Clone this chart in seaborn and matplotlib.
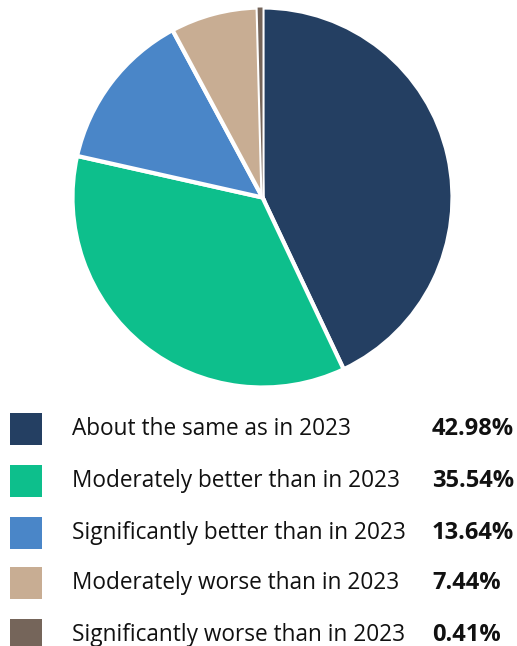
import matplotlib
matplotlib.use("Agg")
import matplotlib.pyplot as plt
from matplotlib.patches import Rectangle
import seaborn as sns

categories = [
    "About the same as in 2023",
    "Moderately better than in 2023",
    "Significantly better than in 2023",
    "Moderately worse than in 2023",
    "Significantly worse than in 2023",
]
shares = [42.98, 35.54, 13.64, 7.44, 0.41]
colors = ["#243F62", "#0DBF8C", "#4A86C8", "#C8AD93", "#75655A"]

sns.set_style("white")
plt.rcParams["font.family"] = ["Open Sans", "DejaVu Sans"]

W, H = 517, 646
fig = plt.figure(figsize=(W / 100, H / 100), dpi=100)

# Pie area, placed in pixel coordinates
cx, cy, r = 262.5, 197.5, 190
ax = fig.add_axes([(cx - r) / W, (H - cy - r) / H, 2 * r / W, 2 * r / H])
wedges, _ = ax.pie(shares, colors=colors, startangle=90, counterclock=False,
                   radius=1, wedgeprops=dict(edgecolor="white", linewidth=3))
# Very thin slices keep their full width instead of being eaten by the outline
for w, s in zip(wedges, shares):
    if s < 2:
        w.set_linewidth(0)
        w.set_zorder(w.get_zorder() + 1)
ax.set_xlim(-1, 1)
ax.set_ylim(-1, 1)
ax.set_aspect("equal")
ax.axis("off")

# Legend rows with values
lg = fig.add_axes([0, 0, 1, 1])
lg.set_xlim(0, W)
lg.set_ylim(H, 0)
lg.axis("off")
row_y = [429, 481, 533, 583, 635]
for y, name, val, col in zip(row_y, categories, shares, colors):
    lg.add_patch(Rectangle((10, y - 16), 32, 32, facecolor=col, edgecolor="none"))
    lg.text(72, y, name, fontsize=16.3, va="center", ha="left", color="#111111")
    lg.text(432, y, f"{val:.2f}%", fontsize=17, va="center", ha="left",
            fontweight="bold", color="#111111")

fig.savefig("out.png", dpi=100)
